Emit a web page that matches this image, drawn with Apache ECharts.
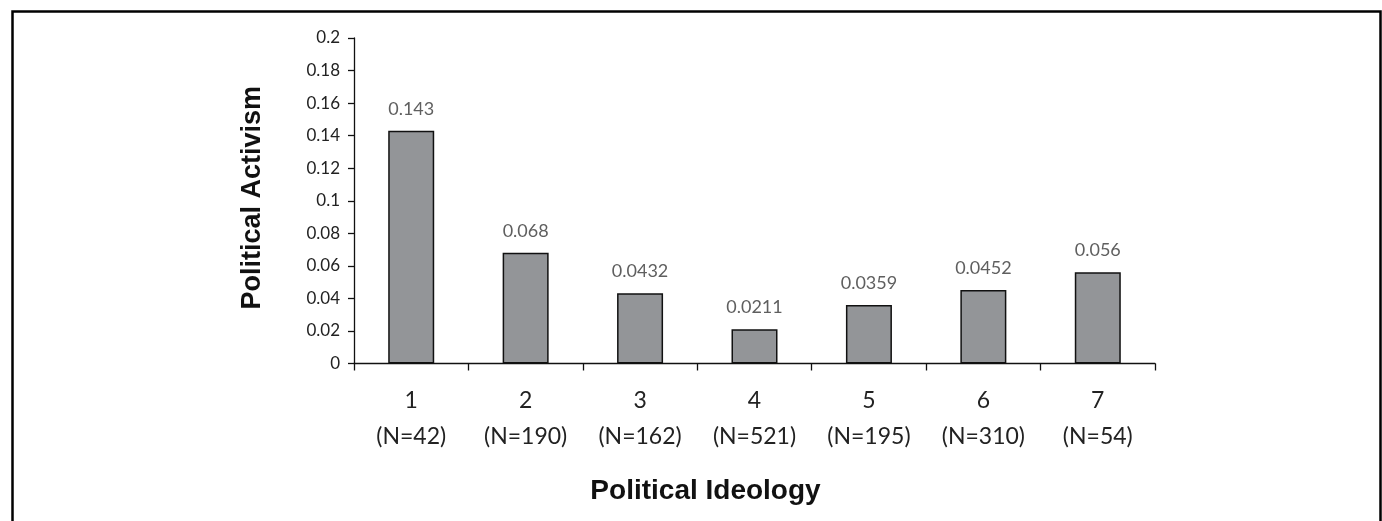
<!DOCTYPE html>
<html>
<head>
<meta charset="utf-8">
<script src="https://cdn.jsdelivr.net/npm/echarts@6/dist/echarts.min.js"></script>
<style>
  html, body { margin: 0; padding: 0; background: #fff; }
  #chart { width: 1382px; height: 521px; }
</style>
</head>
<body>
<div id="chart"></div>
<script>
// Ideology scale points with their sample sizes
const ideology = ['1', '2', '3', '4', '5', '6', '7'];
const sampleSizes = [42, 190, 162, 521, 195, 310, 54];
// Mean political activism per ideology point
const activism = [0.143, 0.068, 0.0432, 0.0211, 0.0359, 0.0452, 0.056];
const yTicks = [0, 0.02, 0.04, 0.06, 0.08, 0.1, 0.12, 0.14, 0.16, 0.18, 0.2];

const categories = ideology.map((k, i) => k + '\n(N=' + sampleSizes[i] + ')');

const chart = echarts.init(document.getElementById('chart'), null, { renderer: 'canvas' });
chart.setOption({
  backgroundColor: '#ffffff',
  animation: false,
  graphic: [{
    type: 'rect',
    left: 10, top: 9,
    shape: { width: 1368, height: 540 },
    style: { fill: 'none', stroke: '#000', lineWidth: 2.5 },
    silent: true
  }],
  grid: { left: 354, right: 227, top: 38, bottom: 157.5, containLabel: false },
  xAxis: {
    type: 'category',
    data: categories,
    name: 'Political Ideology',
    nameLocation: 'middle',
    nameGap: 114,
    nameTextStyle: {
      fontFamily: 'Liberation Sans', fontWeight: 'bold', fontSize: 28, color: '#111',
      padding: [0, 98, 0, 0]
    },
    axisLine: { lineStyle: { color: '#111', width: 1.3 } },
    axisTick: { show: true, length: 7, lineStyle: { color: '#111', width: 1.3 } },
    axisLabel: {
      margin: 19,
      fontFamily: 'Lato, "Open Sans", sans-serif',
      fontSize: 23,
      color: '#222',
      lineHeight: 36
    },
    splitLine: { show: false }
  },
  yAxis: {
    type: 'value',
    min: 0, max: 0.2, interval: 0.02,
    name: 'Political Activism',
    nameLocation: 'middle',
    nameGap: 88,
    nameTextStyle: {
      fontFamily: 'Liberation Sans', fontWeight: 'bold', fontSize: 27, color: '#111',
      padding: [0, 0, 0, 6]
    },
    axisLine: { show: true, lineStyle: { color: '#111', width: 1.3 } },
    axisTick: { show: true, length: 6, lineStyle: { color: '#111', width: 1.3 } },
    axisLabel: {
      margin: 14,
      fontFamily: 'Lato, "Open Sans", sans-serif',
      fontSize: 17,
      color: '#222',
      formatter: v => {
        const t = yTicks.find(x => Math.abs(x - v) < 1e-9);
        return String(t !== undefined ? +t.toFixed(2) : +v.toFixed(2));
      }
    },
    splitLine: { show: false }
  },
  series: [{
    type: 'bar',
    data: activism,
    barWidth: 46,
    itemStyle: { color: '#939598', borderColor: '#111', borderWidth: 1.5 },
    label: {
      show: true,
      position: 'top',
      distance: 13,
      fontFamily: 'Lato, "Open Sans", sans-serif',
      fontSize: 18,
      color: '#5f5f5f',
      formatter: p => String(p.value)
    }
  }]
});
</script>
</body>
</html>
